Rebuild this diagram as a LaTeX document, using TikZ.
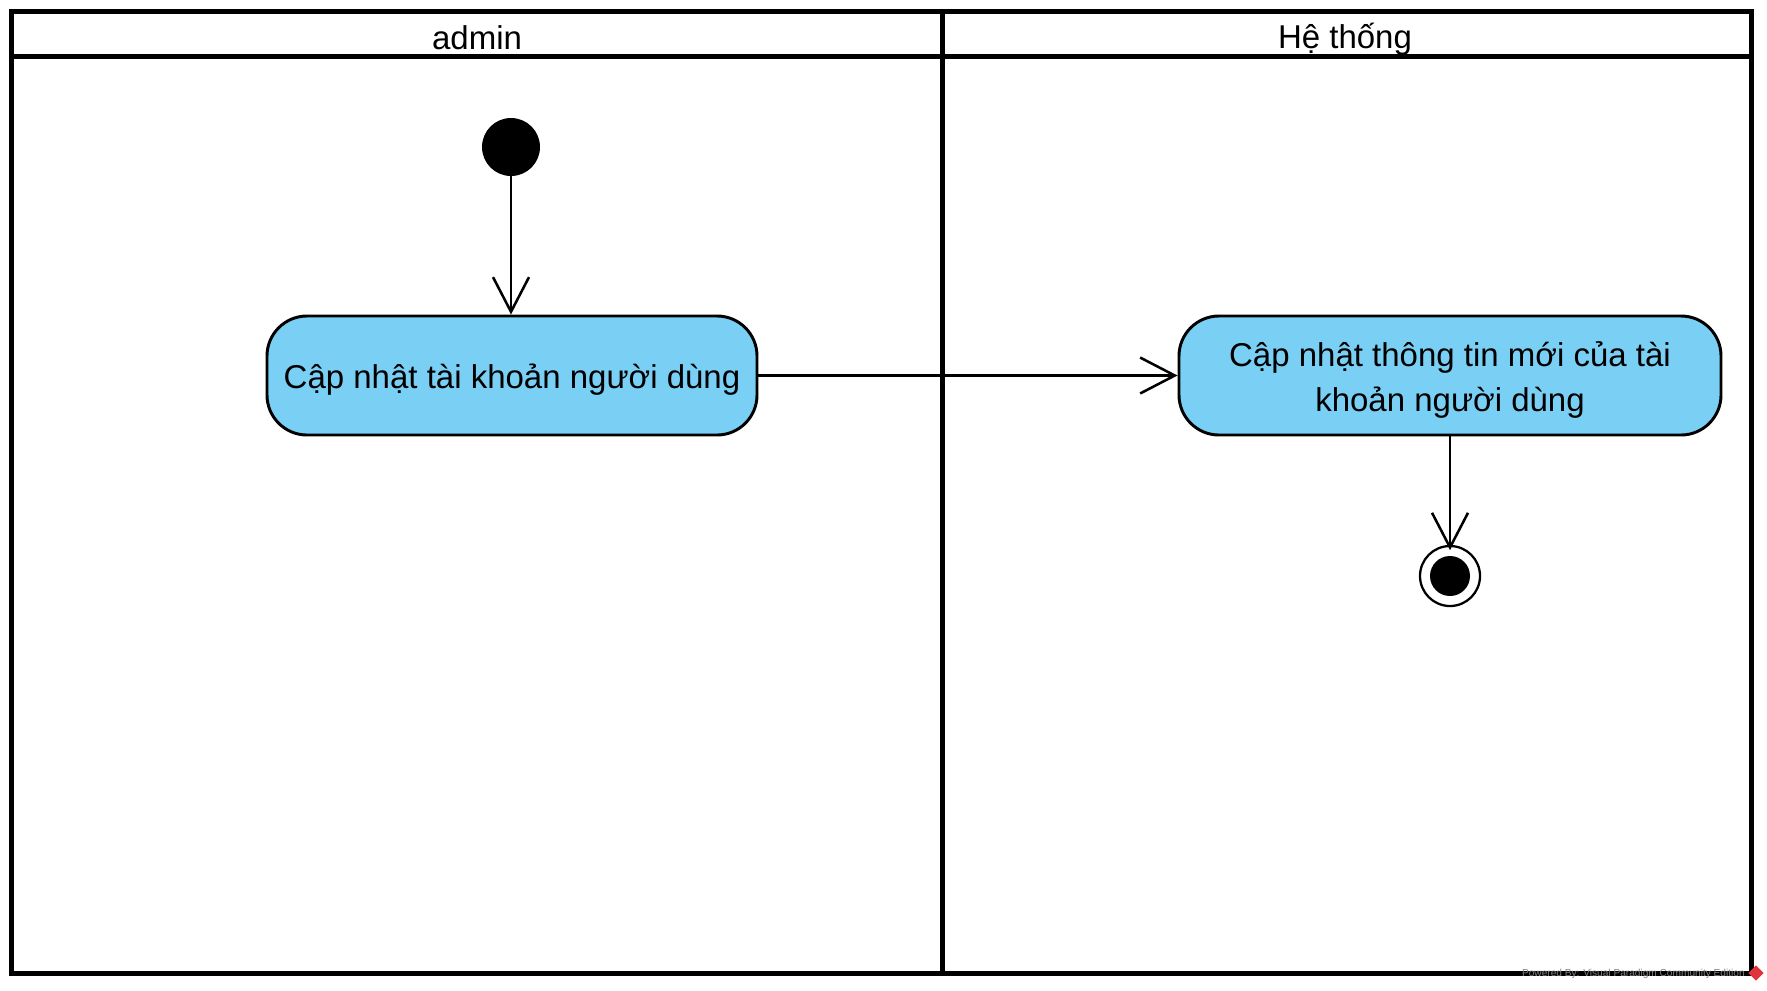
\documentclass[tikz,border=0pt]{standalone}
\usepackage{fontspec}
\setmainfont{Liberation Sans}
\usetikzlibrary{arrows.meta}
\definecolor{actfill}{HTML}{7ACFF5}
\definecolor{wmgray}{HTML}{808080}
\definecolor{wmred}{HTML}{E0343C}
\newcommand{\lowtext}[1]{\raisebox{-3.4pt}[\height][\depth]{#1}}
\tikzset{
  lane/.style={draw=black, line width=3.75pt},
  lanetitle/.style={font=\fontsize{24.75}{30}\selectfont, anchor=center, inner sep=0pt},
  action/.style={draw=black, line width=2.2pt, fill=actfill, rounded corners=30pt,
    minimum width=367.5pt, minimum height=89.25pt, align=center, inner sep=0pt,
    font=\fontsize{24.75}{33.75}\selectfont},
  initial/.style={circle, fill=black, draw=none, minimum size=43.5pt, inner sep=0pt},
  final/.style={circle, draw=black, line width=1.7pt, fill=white, minimum size=45pt, inner sep=0pt},
  finaldot/.style={circle, fill=black, draw=none, minimum size=30pt, inner sep=0pt},
  flow/.style={draw=black, line width=1.9pt, -{Straight Barb[length=26pt, width=27pt, line width=1.9pt]}},
  logo/.style={rectangle, fill=wmred, draw=none, rotate=45, minimum width=8pt, minimum height=8pt, inner sep=0pt},
}
\begin{document}
\begin{tikzpicture}[x=0.75pt, y=-0.75pt]
\useasboundingbox (0,0) rectangle (1767,990);
% swimlanes
\draw[lane] (11,11) rectangle (1751,973);
\draw[lane] (11,56) -- (1751,56);
\draw[lane] (942,11) -- (942,973);
\node[lanetitle] (admin) at (477,38) {admin};
\node[lanetitle] (system) at (1345,39) {Hệ thống};
% nodes
\node[initial] (start) at (511,147) {};
\node[action] (a1) at (512,375.5) {\lowtext{Cập nhật tài khoản người dùng}};
\node[action, minimum width=406.5pt] (a2) at (1450,375.5) {\lowtext{Cập nhật thông tin mới của tài}\\\lowtext{khoản người dùng}};
\node[final] (end) at (1450,576) {};
\node[finaldot] (enddot) at (1450,576) {};
% flows
\draw[flow] (start.south) -- (start.south |- a1.north);
\draw[flow] (a1.east) -- (a2.west);
\draw[flow, shorten >=-4pt] (a2.south) -- (end.north);
% watermark
\node[font=\fontsize{7.6}{9}\selectfont, text=wmgray, anchor=east, inner sep=0pt] (wm) at (1745,974) {Powered By: Visual Paradigm Community Edition};
\node[logo] (vplogo) at (1756,973) {};
\end{tikzpicture}
\end{document}
